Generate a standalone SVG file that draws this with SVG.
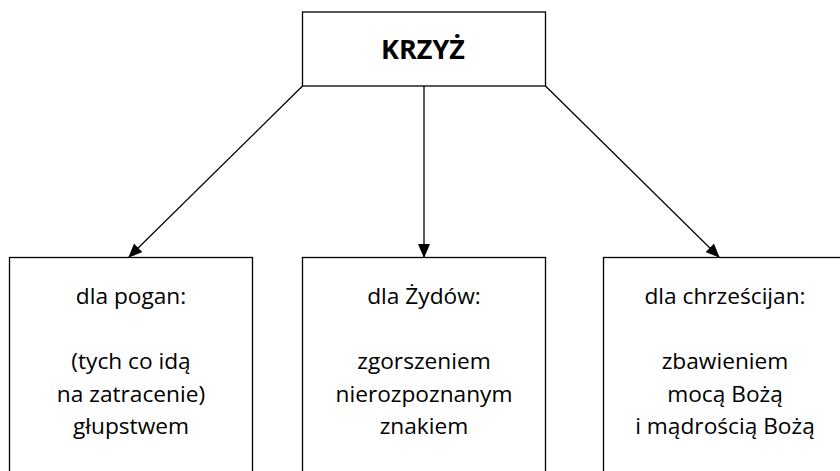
<svg xmlns="http://www.w3.org/2000/svg" width="840" height="471" viewBox="0 0 840 471">
<style>
.box{fill:#fff;stroke:#000;stroke-width:1.3}
.t{font-family:"Open Sans","Liberation Sans",sans-serif;font-size:22.7px;fill:#000;text-anchor:middle}
.h{font-family:"Open Sans","Liberation Sans",sans-serif;font-size:27px;font-weight:bold;fill:#000;text-anchor:middle}
.c{stroke:#000;stroke-width:1.3;fill:none;marker-end:url(#ah)}
</style>
<defs>
<marker id="ah" markerWidth="14" markerHeight="12" refX="13" refY="6" orient="auto" markerUnits="userSpaceOnUse">
<path d="M0,0 L14,6 L0,12 z" fill="#000"/>
</marker>
</defs>
<rect width="840" height="471" fill="#fff"/>
<g id="connectors">
<line class="c" x1="302.5" y1="86" x2="129" y2="257"/>
<line class="c" x1="424" y1="86" x2="424" y2="257"/>
<line class="c" x1="545.5" y1="86" x2="719" y2="257"/>
</g>
<g id="krzyz">
<rect class="box" x="302.5" y="12" width="243" height="74"/>
<text class="h" x="423" y="59">KRZYŻ</text>
</g>
<g id="poganie">
<rect class="box" x="9.5" y="257.5" width="243" height="230"/>
<text class="t" x="131" y="304">dla pogan:</text>
<text class="t" x="131" y="369">(tych co idą</text>
<text class="t" x="131" y="402">na zatracenie)</text>
<text class="t" x="131" y="434">głupstwem</text>
</g>
<g id="zydzi">
<rect class="box" x="302.5" y="257.5" width="243" height="230"/>
<text class="t" x="424" y="304">dla Żydów:</text>
<text class="t" x="424" y="369">zgorszeniem</text>
<text class="t" x="424" y="402">nierozpoznanym</text>
<text class="t" x="424" y="434">znakiem</text>
</g>
<g id="chrzescijanie">
<rect class="box" x="603.5" y="257.5" width="243" height="230"/>
<text class="t" x="725" y="304">dla chrześcijan:</text>
<text class="t" x="725" y="369">zbawieniem</text>
<text class="t" x="725" y="402">mocą Bożą</text>
<text class="t" x="725" y="434">i mądrością Bożą</text>
</g>
</svg>
